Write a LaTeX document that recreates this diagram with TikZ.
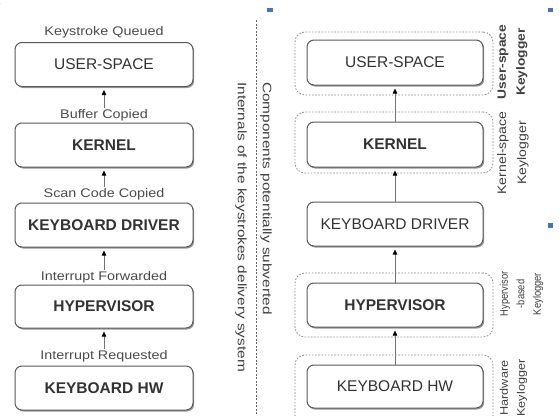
\documentclass[tikz,border=0pt]{standalone}
\usepackage{fontspec}
\setmainfont{Liberation Sans}
\usepackage{graphicx}
\usetikzlibrary{arrows.meta,shadows}
\newcommand\hs[2][1.15]{\scalebox{#1}[1]{#2}}
\definecolor{markblue}{HTML}{4A72B0}
\tikzset{
  box/.style={draw=black!65, line width=1pt, rounded corners=7pt, fill=white,
    minimum width=178pt, minimum height=44pt, inner sep=0pt, text=black!80,
    font=\fontsize{15.5}{18}\selectfont,
    drop shadow={shadow xshift=1.2pt, shadow yshift=-1.5pt, fill=black!40, opacity=1}},
  outerbox/.style={draw=black!45, line width=0.8pt, dash pattern=on 1.6pt off 1.6pt,
    rounded corners=10pt, minimum width=198pt, inner sep=0pt},
  lbl/.style={text=black!70, font=\fontsize{12.5}{14}\selectfont, inner sep=1pt},
  flow/.style={draw=black!55, line width=0.6pt,
    -{Triangle[length=5pt,width=4.5pt,color=black]}, shorten >=3pt},
  divider/.style={draw=black!60, line width=0.7pt, dash pattern=on 2pt off 1.5pt},
  midtext/.style={text=black!75, font=\fontsize{12.3}{14}\selectfont, inner sep=0pt},
  side/.style={text=black!75, align=center, inner sep=0pt, rotate=90},
}
\begin{document}
\begin{tikzpicture}[x=1pt,y=-1pt]
\useasboundingbox (0,0) rectangle (559,415);
\clip (0,0) rectangle (559,415);
\fill[white] (0,0) rectangle (559,415);

% stray marks
\node[anchor=north west, inner sep=0pt, font=\fontsize{10}{12}\selectfont] (brace) at (-3,-1) {\}};
\fill[markblue] (267,8) rectangle (273,12);
\fill[markblue] (548,8) rectangle (553,12);
\fill[markblue] (548,223) rectangle (553,228);

% ---------- left column ----------
\node[box] (lus) at (104,64.5) {USER-SPACE};
\node[box] (lk) at (104,145) {\textbf{KERNEL}};
\node[box] (lkd) at (104,225) {\textbf{KEYBOARD DRIVER}};
\node[box, minimum height=43pt] (lh) at (104,306.5) {\textbf{HYPERVISOR}};
\node[box] (lhw) at (104,388) {\textbf{KEYBOARD HW}};

\node[lbl] (lq) at (104,32) {\hs{Keystroke Queued}};
\node[lbl] (lb) at (104,115) {\hs{Buffer Copied}};
\node[lbl] (ls) at (104,194) {\hs{Scan Code Copied}};
\node[lbl] (lf) at (104,277) {\hs{Interrupt Forwarded}};
\node[lbl] (lr) at (104,356) {\hs{Interrupt Requested}};

\draw[flow] (lb.north) -- (lus.south);
\draw[flow] (ls.north) -- (lk.south);
\draw[flow] (lf.north) -- (lkd.south);
\draw[flow] (lr.north) -- (lh.south);

% ---------- divider ----------
\coordinate (dtop) at (256,20);
\coordinate (dbot) at (256,416);
\draw[divider] (dtop) -- (dbot);
\node[midtext, rotate=-90, anchor=west] (intl) at (241,82) {\hs[1.25]{Internals of the keystrokes delivery system}};
\node[midtext, rotate=-90, anchor=west] (comp) at (266,82) {\hs[1.25]{Components potentially subverted}};

% ---------- right column ----------
\node[outerbox, minimum height=63pt] (ous) at (394,63.5) {};
\node[outerbox, minimum height=61pt] (ok) at (394,142.5) {};
\node[outerbox, minimum height=64pt] (oh) at (394,305) {};
\node[outerbox, minimum height=70pt] (ohw) at (394,390) {};

\node[box, minimum width=176pt, minimum height=45pt] (rus) at (395,62.5) {USER-SPACE};
\node[box, minimum width=176pt, minimum height=45pt] (rk) at (395,144.5) {\textbf{KERNEL}};
\node[box, minimum width=176pt] (rkd) at (395,224) {KEYBOARD DRIVER};
\node[box, minimum width=176pt] (rh) at (395,305) {\textbf{HYPERVISOR}};
\node[box, minimum width=176pt, minimum height=43pt] (rhw) at (395,386.5) {KEYBOARD HW};

\draw[flow] (rk.north) -- (rus.south);
\draw[flow] (rkd.north) -- (rk.south);
\draw[flow] (rh.north) -- (rkd.south);
\draw[flow] (rhw.north) -- (rh.south);

% ---------- side labels ----------
\node[side, font=\bfseries\fontsize{12}{19}\selectfont] (kus) at (512.5,62) {\hs{User-space}\\\hs{Keylogger}};
\node[side, font=\fontsize{12.25}{20}\selectfont] (kks) at (513,153) {\hs{Kernel-space}\\\hs{Keylogger}};
\node[side, font=\fontsize{11}{16.5}\selectfont] (khy) at (521.5,294) {\hs[0.85]{Hypervisor}\\\hs[0.85]{-based}\\\hs[0.85]{Keylogger}};
\node[side, font=\fontsize{11}{17}\selectfont] (khw) at (513.5,388) {\hs{Hardware}\\\hs{Keylogger}};
\end{tikzpicture}
\end{document}
